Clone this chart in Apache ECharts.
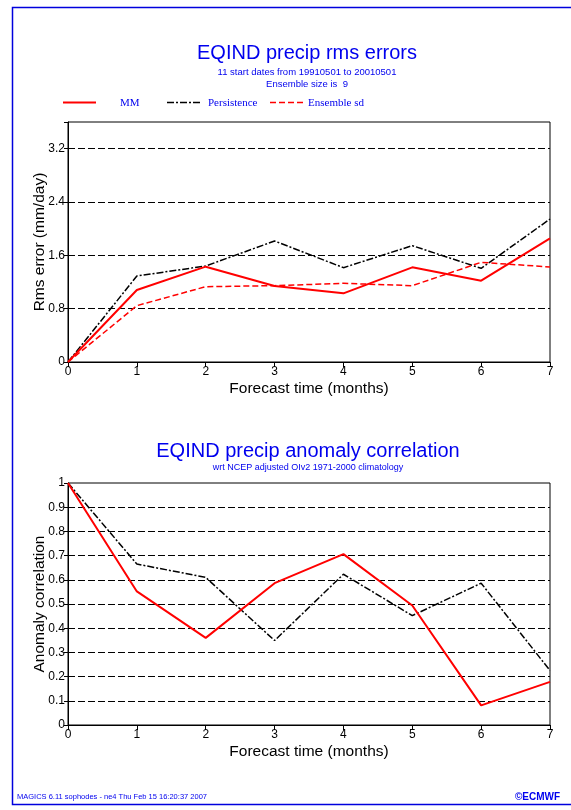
<!DOCTYPE html>
<html><head><meta charset="utf-8">
<script src="https://cdn.jsdelivr.net/npm/echarts@6/dist/echarts.min.js"></script>
<style>html,body{margin:0;padding:0;background:#fff}#c{width:571px;height:810px}</style>
</head><body><div id="c"></div>
<script>
const months = [0, 1, 2, 3, 4, 5, 6, 7];
const rmsMM = [0, 1.08, 1.43, 1.14, 1.03, 1.42, 1.22, 1.855];
const rmsPersistence = [0, 1.29, 1.44, 1.815, 1.415, 1.745, 1.405, 2.145];
const rmsEnsembleSd = [0, 0.845, 1.13, 1.145, 1.18, 1.145, 1.495, 1.425];
const acMM = [1.0, 0.552, 0.36, 0.586, 0.706, 0.494, 0.081, 0.178];
const acPersistence = [1.0, 0.665, 0.61, 0.349, 0.623, 0.452, 0.586, 0.225];
const rmsTicks = [0, 0.8, 1.6, 2.4, 3.2];
const acTicks = [0, 0.1, 0.2, 0.3, 0.4, 0.5, 0.6, 0.7, 0.8, 0.9, 1];

const pairs = (ys) => months.map((m, i) => [m, ys[i]]);
const FONT = 'Liberation Sans, Arial, sans-serif';
const SERIF = 'Liberation Serif, Times New Roman, serif';
const BLUE = '#0000ee';
const gridLine = { show: true, showMaxLine: false, showMinLine: false, lineStyle: { color: '#000', type: [7, 3], width: 1 } };

function xAx(gi) {
  return {
    gridIndex: gi, type: 'value', min: 0, max: 7, interval: 1,
    name: 'Forecast time (months)', nameLocation: 'middle', nameGap: 19, nameMoveOverlap: false,
    nameTextStyle: { fontFamily: FONT, fontSize: 15.5, color: '#000' },
    axisLine: { show: true, lineStyle: { color: '#000', width: 1 } },
    axisTick: { show: true, inside: false, length: 5, lineStyle: { color: '#000' } },
    axisLabel: { fontFamily: FONT, fontSize: 12, color: '#000', margin: 4 },
    splitLine: { show: false }
  };
}
function yAx(gi, min, max, interval, ticks, name) {
  return {
    gridIndex: gi, type: 'value', min: min, max: max, interval: interval,
    name: name, nameLocation: 'middle', nameGap: 20, nameMoveOverlap: false,
    nameTextStyle: { fontFamily: FONT, fontSize: 15.5, color: '#000' },
    axisLine: { show: true, lineStyle: { color: '#000' } },
    axisTick: { show: true, length: 4, lineStyle: { color: '#000' } },
    axisLabel: { fontFamily: FONT, fontSize: 12, color: '#000', margin: 3,
      formatter: (v) => ticks.some(t => Math.abs(t - v) < 1e-6) ? String(+v.toFixed(1)) : '' },
    splitLine: gridLine
  };
}

const chart = echarts.init(document.getElementById('c'), null, { renderer: 'canvas' });
chart.setOption({
  animation: false,
  backgroundColor: '#fff',
  grid: [
    { left: 68, top: 122, width: 482, height: 240, show: true, borderColor: '#000', borderWidth: 1, backgroundColor: 'transparent' },
    { left: 68, top: 483, width: 482, height: 242, show: true, borderColor: '#000', borderWidth: 1, backgroundColor: 'transparent' }
  ],
  xAxis: [xAx(0), xAx(1)],
  yAxis: [
    yAx(0, 0, 3.6, 0.8, rmsTicks, 'Rms error (mm/day)'),
    yAx(1, 0, 1, 0.1, acTicks, 'Anomaly correlation')
  ],
  series: [
    { name: 'Persistence', type: 'line', xAxisIndex: 0, yAxisIndex: 0, data: pairs(rmsPersistence), symbol: 'none',
      lineStyle: { color: '#000', width: 1.5, type: [7, 2, 2, 2] }, z: 3 },
    { name: 'Ensemble sd', type: 'line', xAxisIndex: 0, yAxisIndex: 0, data: pairs(rmsEnsembleSd), symbol: 'none',
      lineStyle: { color: '#ff0000', width: 1.5, type: [6, 3] }, z: 3 },
    { name: 'MM', type: 'line', xAxisIndex: 0, yAxisIndex: 0, data: pairs(rmsMM), symbol: 'none',
      lineStyle: { color: '#ff0000', width: 2 }, z: 4 },
    { name: 'Persistence AC', type: 'line', xAxisIndex: 1, yAxisIndex: 1, data: pairs(acPersistence), symbol: 'none',
      lineStyle: { color: '#000', width: 1.5, type: [7, 2, 2, 2] }, z: 3 },
    { name: 'MM AC', type: 'line', xAxisIndex: 1, yAxisIndex: 1, data: pairs(acMM), symbol: 'none',
      lineStyle: { color: '#ff0000', width: 2 }, z: 4 }
  ],
  graphic: [
    { type: 'rect', shape: { x: 12.5, y: 7.5, width: 700, height: 797 }, style: { fill: 'none', stroke: '#0000dd', lineWidth: 1.5 }, silent: true },
    { type: 'text', x: 307, y: 53, style: { text: 'EQIND precip rms errors', fill: BLUE, font: '20px ' + FONT, textAlign: 'center', textVerticalAlign: 'middle' } },
    { type: 'text', x: 307, y: 72, style: { text: '11 start dates from 19910501 to 20010501', fill: BLUE, font: '9.5px ' + FONT, textAlign: 'center', textVerticalAlign: 'middle' } },
    { type: 'text', x: 307, y: 84, style: { text: 'Ensemble size is  9', fill: BLUE, font: '9.5px ' + FONT, textAlign: 'center', textVerticalAlign: 'middle' } },
    { type: 'line', shape: { x1: 63, y1: 102.5, x2: 96, y2: 102.5 }, style: { stroke: '#ff0000', lineWidth: 2 } },
    { type: 'text', x: 120, y: 103, style: { text: 'MM', fill: BLUE, font: '11px ' + SERIF, textVerticalAlign: 'middle' } },
    { type: 'line', shape: { x1: 167, y1: 102.5, x2: 200, y2: 102.5 }, style: { stroke: '#000', lineWidth: 1.5, lineDash: [7, 2, 2, 2] } },
    { type: 'text', x: 208, y: 103, style: { text: 'Persistence', fill: BLUE, font: '11px ' + SERIF, textVerticalAlign: 'middle' } },
    { type: 'line', shape: { x1: 270, y1: 102.5, x2: 303, y2: 102.5 }, style: { stroke: '#ff0000', lineWidth: 1.5, lineDash: [6, 3] } },
    { type: 'text', x: 308, y: 103, style: { text: 'Ensemble sd', fill: BLUE, font: '11px ' + SERIF, textVerticalAlign: 'middle' } },
    { type: 'text', x: 308, y: 451, style: { text: 'EQIND precip anomaly correlation', fill: BLUE, font: '20px ' + FONT, textAlign: 'center', textVerticalAlign: 'middle' } },
    { type: 'text', x: 308, y: 468, style: { text: 'wrt NCEP adjusted OIv2 1971-2000 climatology', fill: BLUE, font: '9px ' + FONT, textAlign: 'center', textVerticalAlign: 'middle' } },
    { type: 'text', x: 17, y: 797, style: { text: 'MAGICS 6.11 sophodes - ne4 Thu Feb 15 16:20:37 2007', fill: BLUE, font: '7.5px ' + FONT, textVerticalAlign: 'middle' } },
    { type: 'text', x: 515, y: 797, style: { text: '©ECMWF', fill: BLUE, font: 'bold 10px ' + FONT, textVerticalAlign: 'middle' } }
  ]
});
</script>
</body></html>
